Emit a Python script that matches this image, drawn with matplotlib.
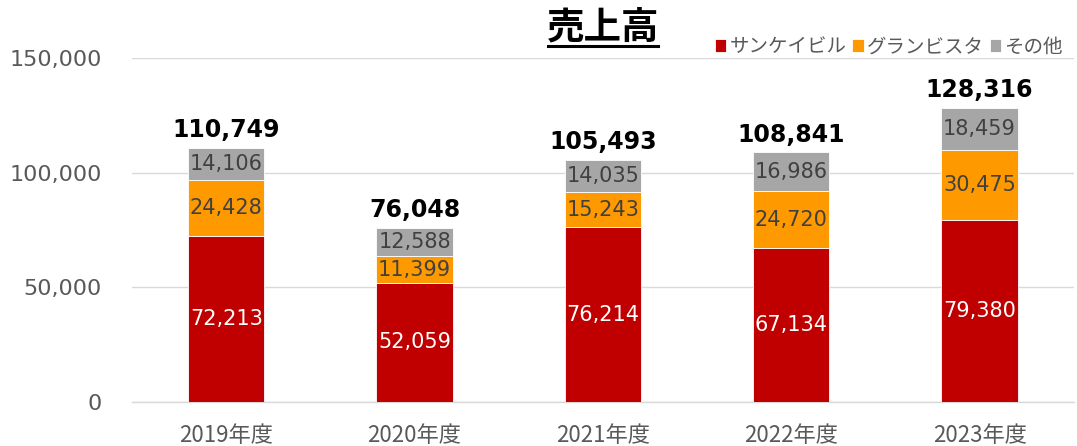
import numpy as np
import matplotlib.pyplot as plt

plt.rcParams['font.family'] = ['DejaVu Sans', 'Noto Sans CJK JP']

years = ['2019年度', '2020年度', '2021年度', '2022年度', '2023年度']
sankei = [72213, 52059, 76214, 67134, 79380]
granvista = [24428, 11399, 15243, 24720, 30475]
others = [14106, 12588, 14035, 16986, 18459]
totals = [110749, 76048, 105493, 108841, 128316]
series_names = ['サンケイビル', 'グランビスタ', 'その他']
colors = ['#C00000', '#FF9900', '#A6A6A6']
label_colors = ['white', '#404040', '#404040']

fig = plt.figure(figsize=(10.77, 4.46), dpi=100)
ax = fig.add_axes([0.1226, 0.0987, 0.8744, 0.7713])

x = np.arange(len(years))
bottom = np.zeros(len(years))
for vals, name, c, lc in zip([sankei, granvista, others], series_names, colors, label_colors):
    vals = np.array(vals)
    ax.bar(x, vals, 0.405, bottom=bottom, color=c, label=name,
           edgecolor='white', linewidth=0.6, zorder=3)
    for xi, b, v in zip(x, bottom, vals):
        ax.text(xi, b + v / 2, f'{v:,}', ha='center', va='center',
                fontsize=15, color=lc, zorder=4)
    bottom += vals

for xi, b, t in zip(x, bottom, totals):
    ax.text(xi, b + 2500, f'{t:,}', ha='center', va='bottom',
            fontsize=17, fontweight='bold', color='black')

ax.set_xlim(-0.5, len(years) - 0.5)
ax.set_ylim(0, 150000)
ax.set_yticks([0, 50000, 100000, 150000])
ax.set_yticklabels([f'{v:,}' for v in [0, 50000, 100000, 150000]])
ax.set_xticks(x)
ax.set_xticklabels(years, family=['Noto Sans CJK JP'])
ax.tick_params(axis='y', length=0, labelsize=16, labelcolor='#595959', pad=22)
ax.tick_params(axis='x', length=0, labelsize=16, labelcolor='#595959', pad=16)
ax.grid(axis='y', color='#D9D9D9', linewidth=1, zorder=0)
for s in ['top', 'right', 'left']:
    ax.spines[s].set_visible(False)
ax.spines['bottom'].set_color('#D9D9D9')
ax.spines['bottom'].set_linewidth(1)

fig.text(0.56, 0.94, '売上高', ha='center', va='center', fontsize=27,
         fontweight='bold', family=['Noto Sans CJK JP'])
fig.add_artist(plt.Line2D([0.509, 0.611], [0.897, 0.897], color='black', linewidth=2.2))

leg = fig.legend(loc='center right', bbox_to_anchor=(1.003, 0.895), ncol=3, frameon=False,
                 prop={'family': 'Noto Sans CJK JP', 'size': 14}, handlelength=0.6,
                 handleheight=0.6, handletextpad=0.15, columnspacing=0.3)
for t in leg.get_texts():
    t.set_color('#595959')

fig.savefig('out.png', dpi=100)
